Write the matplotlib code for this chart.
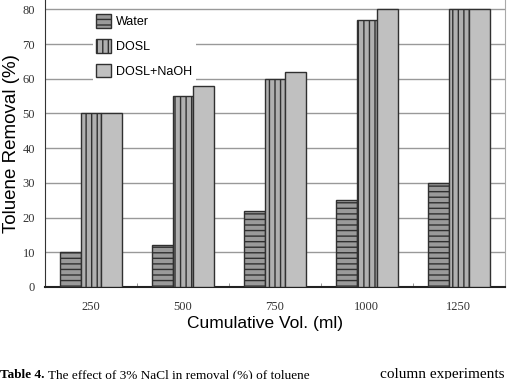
import matplotlib.pyplot as plt
import numpy as np

# data
volumes = ["250", "500", "750", "1000", "1250"]
water = [10, 12, 22, 25, 30]
dosl = [50, 55, 60, 77, 80]
dosl_naoh = [50, 58, 62, 80, 80]

plt.rcParams["hatch.linewidth"] = 1.0

fig = plt.figure(figsize=(5.11, 3.79), dpi=100)
ax = fig.add_axes([0.088, 0.243, 0.900, 0.757])

x = np.arange(len(volumes))
w = 0.225

ax.bar(x - w, water, w, color="#9a9a9a", edgecolor="#303030", hatch="---",
       linewidth=1.0, label="Water", zorder=3)
ax.bar(x, dosl, w, color="#b0b0b0", edgecolor="#303030", hatch="|||",
       linewidth=1.0, label="DOSL", zorder=3)
ax.bar(x + w, dosl_naoh, w, color="#c0c0c0", edgecolor="#303030",
       linewidth=1.0, label="DOSL+NaOH", zorder=3)

ax.set_xlim(-0.5, len(volumes) - 0.5)
ax.set_ylim(0, 82.7)
ax.set_yticks(range(0, 81, 10))
ax.set_xticks(x)
ax.set_xticklabels(volumes, family="Liberation Serif", fontsize=9, color="#333333")
for lab in ax.get_yticklabels():
    lab.set_family("Liberation Serif")
    lab.set_fontsize(9)
    lab.set_color("#333333")
ax.set_xticks(np.arange(0.5, len(volumes) - 0.5, 1), minor=True)
ax.tick_params(axis="x", which="major", length=0, pad=10)
ax.tick_params(axis="x", which="minor", direction="in", length=3, color="#888888")
ax.tick_params(axis="y", length=0, pad=7)

ax.grid(axis="y", color="#999999", linewidth=1.0, zorder=0)
ax.spines["top"].set_visible(False)
ax.spines["right"].set_color("#aaaaaa")
ax.spines["left"].set_color("#333333")
ax.spines["bottom"].set_color("#222222")
ax.spines["bottom"].set_linewidth(1.5)

ax.set_ylabel("Toluene Removal (%)", family="Liberation Sans", fontsize=13.5)
ax.yaxis.set_label_coords(-0.054, 0.50)
ax.set_xlabel("Cumulative Vol. (ml)", family="Liberation Sans", fontsize=12.5)
ax.xaxis.set_label_coords(0.478, -0.103)

leg = ax.legend(loc="upper left", bbox_to_anchor=(0.09, 0.985), frameon=True,
                fancybox=False, edgecolor="none", facecolor="white", framealpha=1,
                prop={"family": "Liberation Sans", "size": 9},
                handlelength=1.2, handleheight=1.3, handletextpad=0.4,
                labelspacing=0.85, borderpad=0.3)
leg.set_zorder(5)

fig.text(0.0, 0.003, "Table 4.", family="Liberation Serif", fontsize=9.5,
         weight="bold", va="baseline")
fig.text(0.094, 0.003, "The effect of 3% NaCl in removal (%) of toluene",
         family="Liberation Serif", fontsize=9.5, va="baseline")
fig.text(0.743, 0.003, "column experiments", family="Liberation Serif",
         fontsize=11, va="baseline")

fig.savefig("out.png", dpi=100)
